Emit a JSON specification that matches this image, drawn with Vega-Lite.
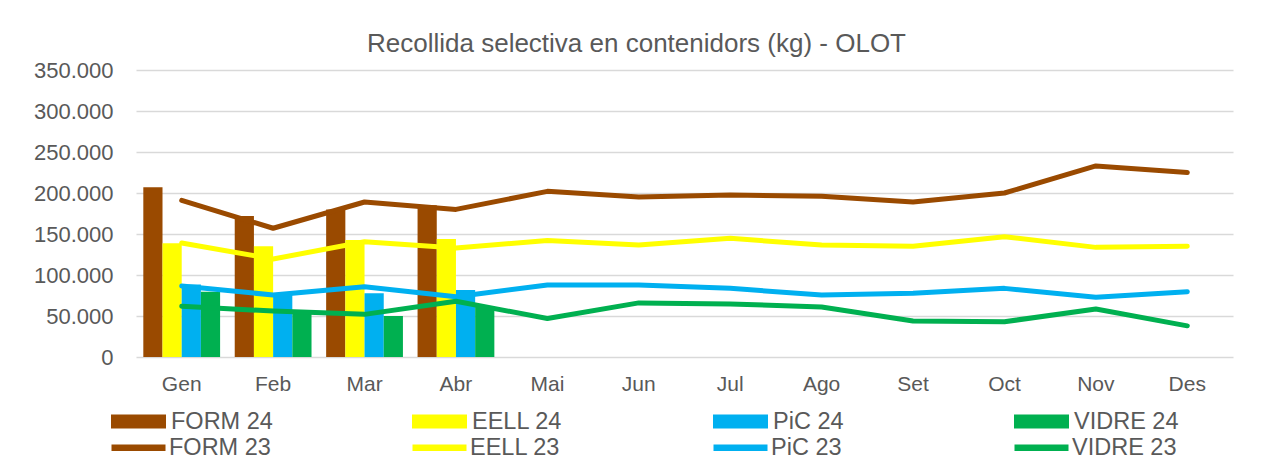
{
  "$schema": "https://vega.github.io/schema/vega-lite/v6.json",
  "autosize": {"type": "none"},
  "padding": {"left": 136, "top": 70, "right": 37, "bottom": 107},
  "width": 1097,
  "height": 287,
  "title": {
    "text": "Recollida selectiva en contenidors (kg) - OLOT",
    "font": "Liberation Sans",
    "fontSize": 26,
    "fontWeight": "normal",
    "color": "#595959",
    "anchor": "middle",
    "dx": -48,
    "offset": 2
  },
  "datasets": {
    "bars24": [
      {"mes": "Gen", "serie": "FORM 24", "kg": 207000},
      {"mes": "Feb", "serie": "FORM 24", "kg": 172000},
      {"mes": "Mar", "serie": "FORM 24", "kg": 180000},
      {"mes": "Abr", "serie": "FORM 24", "kg": 185000},
      {"mes": "Gen", "serie": "EELL 24", "kg": 138700},
      {"mes": "Feb", "serie": "EELL 24", "kg": 135000},
      {"mes": "Mar", "serie": "EELL 24", "kg": 142700},
      {"mes": "Abr", "serie": "EELL 24", "kg": 144000},
      {"mes": "Gen", "serie": "PiC 24", "kg": 88500},
      {"mes": "Feb", "serie": "PiC 24", "kg": 75500},
      {"mes": "Mar", "serie": "PiC 24", "kg": 77600},
      {"mes": "Abr", "serie": "PiC 24", "kg": 81700},
      {"mes": "Gen", "serie": "VIDRE 24", "kg": 79600},
      {"mes": "Feb", "serie": "VIDRE 24", "kg": 57000},
      {"mes": "Mar", "serie": "VIDRE 24", "kg": 50000},
      {"mes": "Abr", "serie": "VIDRE 24", "kg": 62200}
    ],
    "lines23": [
      {"mes": "Gen", "serie": "FORM 23", "kg": 191000},
      {"mes": "Feb", "serie": "FORM 23", "kg": 157000},
      {"mes": "Mar", "serie": "FORM 23", "kg": 189000},
      {"mes": "Abr", "serie": "FORM 23", "kg": 180000},
      {"mes": "Mai", "serie": "FORM 23", "kg": 202000},
      {"mes": "Jun", "serie": "FORM 23", "kg": 195000},
      {"mes": "Jul", "serie": "FORM 23", "kg": 197500},
      {"mes": "Ago", "serie": "FORM 23", "kg": 196000},
      {"mes": "Set", "serie": "FORM 23", "kg": 189000},
      {"mes": "Oct", "serie": "FORM 23", "kg": 200000},
      {"mes": "Nov", "serie": "FORM 23", "kg": 233000},
      {"mes": "Des", "serie": "FORM 23", "kg": 225000},
      {"mes": "Gen", "serie": "EELL 23", "kg": 139000},
      {"mes": "Feb", "serie": "EELL 23", "kg": 119500},
      {"mes": "Mar", "serie": "EELL 23", "kg": 140600},
      {"mes": "Abr", "serie": "EELL 23", "kg": 133000},
      {"mes": "Mai", "serie": "EELL 23", "kg": 142000},
      {"mes": "Jun", "serie": "EELL 23", "kg": 136600},
      {"mes": "Jul", "serie": "EELL 23", "kg": 144700},
      {"mes": "Ago", "serie": "EELL 23", "kg": 136600},
      {"mes": "Set", "serie": "EELL 23", "kg": 135000},
      {"mes": "Oct", "serie": "EELL 23", "kg": 146700},
      {"mes": "Nov", "serie": "EELL 23", "kg": 133700},
      {"mes": "Des", "serie": "EELL 23", "kg": 135000},
      {"mes": "Gen", "serie": "PiC 23", "kg": 86600},
      {"mes": "Feb", "serie": "PiC 23", "kg": 75600},
      {"mes": "Mar", "serie": "PiC 23", "kg": 85800},
      {"mes": "Abr", "serie": "PiC 23", "kg": 73600},
      {"mes": "Mai", "serie": "PiC 23", "kg": 87800},
      {"mes": "Jun", "serie": "PiC 23", "kg": 87800},
      {"mes": "Jul", "serie": "PiC 23", "kg": 83700},
      {"mes": "Ago", "serie": "PiC 23", "kg": 75600},
      {"mes": "Set", "serie": "PiC 23", "kg": 77600},
      {"mes": "Oct", "serie": "PiC 23", "kg": 83700},
      {"mes": "Nov", "serie": "PiC 23", "kg": 72800},
      {"mes": "Des", "serie": "PiC 23", "kg": 79700},
      {"mes": "Gen", "serie": "VIDRE 23", "kg": 62000},
      {"mes": "Feb", "serie": "VIDRE 23", "kg": 56000},
      {"mes": "Mar", "serie": "VIDRE 23", "kg": 52000},
      {"mes": "Abr", "serie": "VIDRE 23", "kg": 68000},
      {"mes": "Mai", "serie": "VIDRE 23", "kg": 47000},
      {"mes": "Jun", "serie": "VIDRE 23", "kg": 66000},
      {"mes": "Jul", "serie": "VIDRE 23", "kg": 64600},
      {"mes": "Ago", "serie": "VIDRE 23", "kg": 61000},
      {"mes": "Set", "serie": "VIDRE 23", "kg": 44000},
      {"mes": "Oct", "serie": "VIDRE 23", "kg": 43000},
      {"mes": "Nov", "serie": "VIDRE 23", "kg": 58500},
      {"mes": "Des", "serie": "VIDRE 23", "kg": 38000}
    ]
  },
  "encoding": {
    "x": {
      "field": "mes",
      "type": "nominal",
      "sort": ["Gen", "Feb", "Mar", "Abr", "Mai", "Jun", "Jul", "Ago", "Set", "Oct", "Nov", "Des"],
      "scale": {"domain": ["Gen", "Feb", "Mar", "Abr", "Mai", "Jun", "Jul", "Ago", "Set", "Oct", "Nov", "Des"], "paddingInner": 0.16, "paddingOuter": 0.08},
      "axis": {
        "title": null,
        "labelAngle": 0,
        "domain": false,
        "ticks": false,
        "grid": false,
        "labelFont": "Liberation Sans",
        "labelFontSize": 21,
        "labelColor": "#595959",
        "labelPadding": 16
      }
    },
    "y": {
      "field": "kg",
      "type": "quantitative",
      "scale": {"domain": [0, 350000], "nice": false},
      "axis": {
        "title": null,
        "values": [0, 50000, 100000, 150000, 200000, 250000, 300000, 350000],
        "format": ",.0f",
        "domain": false,
        "ticks": false,
        "labelFont": "Liberation Sans",
        "labelFontSize": 22,
        "labelColor": "#595959",
        "labelPadding": 23,
        "gridColor": "#D9D9D9",
        "gridWidth": 1.5
      }
    }
  },
  "layer": [
    {
      "data": {"name": "bars24"},
      "mark": {"type": "bar"},
      "encoding": {
        "xOffset": {
          "field": "serie",
          "type": "nominal",
          "sort": ["FORM 24", "EELL 24", "PiC 24", "VIDRE 24"],
          "scale": {"domain": ["FORM 24", "EELL 24", "PiC 24", "VIDRE 24"], "paddingInner": 0, "paddingOuter": 0}
        },
        "color": {
          "field": "serie",
          "type": "nominal",
          "scale": {"domain": ["FORM 24", "EELL 24", "PiC 24", "VIDRE 24"], "range": ["#9A4A00", "#FFFF00", "#00B0F0", "#00B050"]},
          "legend": {
            "title": null,
            "orient": "none",
            "legendX": -25,
            "legendY": 324,
            "direction": "horizontal",
            "columns": 4,
            "gridAlign": "all",
            "columnPadding": 136,
            "symbolType": "M-1,-0.255H1V0.255H-1Z",
            "symbolSize": 3025,
            "symbolStrokeWidth": 0,
            "symbolOpacity": 1,
            "labelFont": "Liberation Sans",
            "labelFontSize": 23.5,
            "labelColor": "#595959",
            "labelOffset": 5,
            "labelLimit": 300
          }
        }
      }
    },
    {
      "data": {"name": "lines23"},
      "mark": {"type": "line", "strokeWidth": 5, "strokeCap": "round", "strokeJoin": "round"},
      "encoding": {
        "stroke": {
          "field": "serie",
          "type": "nominal",
          "scale": {"domain": ["FORM 23", "EELL 23", "PiC 23", "VIDRE 23"], "range": ["#9A4A00", "#FFFF00", "#00B0F0", "#00B050"]},
          "legend": {
            "title": null,
            "orient": "none",
            "legendX": -28,
            "legendY": 347,
            "direction": "horizontal",
            "columns": 4,
            "gridAlign": "all",
            "columnPadding": 125,
            "symbolType": "stroke",
            "symbolSize": 2916,
            "symbolStrokeWidth": 6.5,
            "symbolOpacity": 1,
            "labelFont": "Liberation Sans",
            "labelFontSize": 23.5,
            "labelColor": "#595959",
            "labelOffset": 0,
            "labelLimit": 300
          }
        }
      }
    }
  ],
  "config": {
    "view": {"stroke": null},
    "locale": {"number": {"decimal": ",", "thousands": ".", "grouping": [3], "currency": ["", " €"]}},
    "font": "Liberation Sans"
  }
}
